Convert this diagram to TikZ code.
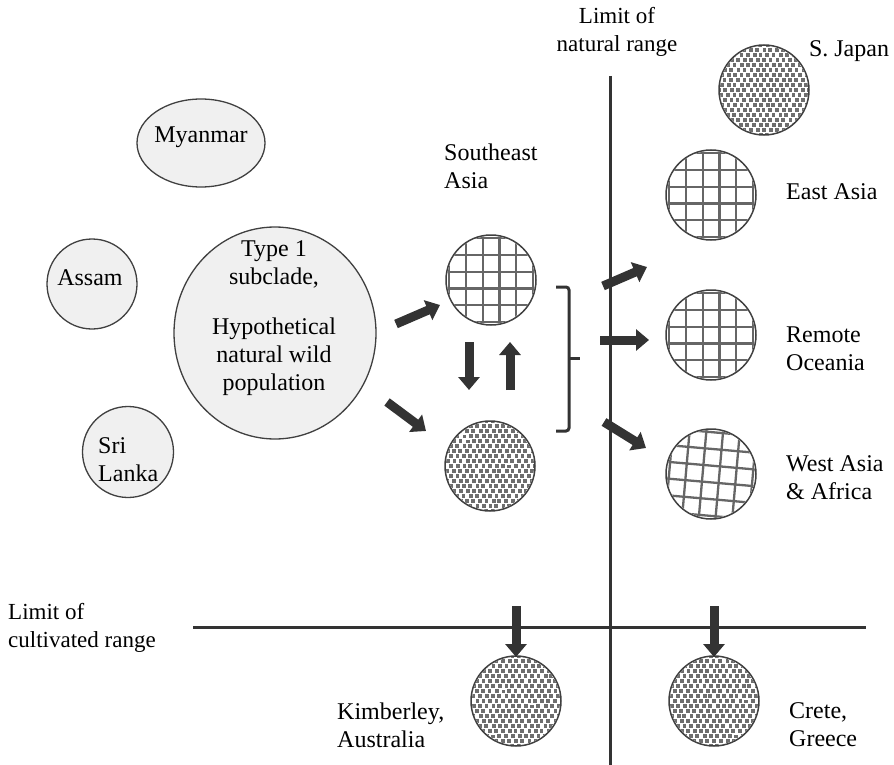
\documentclass[tikz,border=0pt]{standalone}
\usepackage{fontspec}
\setmainfont{Liberation Serif}
\usetikzlibrary{arrows.meta,shapes.geometric}
\definecolor{edgec}{HTML}{404040}
\definecolor{lightfill}{HTML}{F0F0F0}
\definecolor{patc}{HTML}{666666}
\definecolor{dotc}{HTML}{6E6E6E}
\definecolor{arrc}{HTML}{333333}
\newcommand{\mygridfill}[4]{%
  \begin{scope}
    \clip (#1,#2) circle[radius=#3];
    \begin{scope}[shift={(#1,#2)}, rotate=#4]
      \foreach \k in {-3.5,-2.5,...,3.5}{
        \draw[patc, line width=2.3pt] (\k*16.7,-65) -- (\k*16.7,65);
        \draw[patc, line width=2.3pt] (-65,\k*16.7) -- (65,\k*16.7);
      }
    \end{scope}
  \end{scope}}
\newcommand{\mydotfill}[3]{%
  \begin{scope}
    \clip (#1,#2) circle[radius=#3];
    \foreach \j in {-10,...,10}{
      \pgfmathsetmacro\off{mod(\j+100,2)*3.25}
      \foreach \i in {-8,...,8}{
        \fill[dotc] ({#1+\i*6.5+\off-1.9+0.6*rand},{#2+\j*5-1.9+0.4*rand}) rectangle ++(3.8,3.8);
      }
    }
  \end{scope}}
\begin{document}
\begin{tikzpicture}[x=1pt,y=-1pt,
  every node/.style={font=\fontsize{23}{28}\selectfont, text=black},
  bubble/.style={draw=edgec, line width=1.3pt, fill=lightfill, inner sep=0pt},
  patcircle/.style={circle, draw=edgec, line width=1.5pt, minimum size=90pt, inner sep=0pt},
  barrow/.style={draw=arrc, line width=9pt, -{Triangle[length=13pt,width=21pt]}},
  limitline/.style={draw=arrc, line width=3pt},
  lbl/.style={align=left, inner sep=0pt},
  lblc/.style={align=center, inner sep=0pt},
  bigtxt/.style={font=\fontsize{24}{28}\selectfont}]
\pgfmathsetseed{7}
\useasboundingbox (0,0) rectangle (894,765);

% left bubbles
\node[bubble, ellipse, minimum width=128pt, minimum height=88pt] (myanmar) at (201,143) {};
\node[lblc, bigtxt] at (201,137) {Myanmar};
\node[bubble, circle, minimum size=90pt] (assam) at (92,284) {};
\node[lblc, bigtxt] at (90,278) {Assam};
\node[bubble, circle, minimum size=91pt] (srilanka) at (128,452) {};
\node[lbl, bigtxt, anchor=west] at (98,460) {Sri\\Lanka};
\node[bubble, ellipse, minimum width=202pt, minimum height=212pt] (type1) at (275,333) {};
\node[lblc, bigtxt] at (274,318) {Type 1\\subclade,\\[22pt]Hypothetical\\natural wild\\population};

% limit lines
\coordinate (vtop) at (610,76);
\coordinate (vbot) at (610,765);
\coordinate (hleft) at (193,627);
\coordinate (hright) at (866,627);
\draw[limitline] (vtop) -- (vbot);
\draw[limitline] (hleft) -- (hright);
\node[lblc] (natlim) at (617,32) {Limit of\\natural range};
\node[lbl, anchor=west] (cultlim) at (8,628) {Limit of\\cultivated range};

% patterned circles
\mygridfill{491}{280}{44}{0}
\node[patcircle] (seagrid) at (491,280) {};
\mydotfill{490}{466}{44}
\node[patcircle] (seadot) at (490,466) {};
\mydotfill{764}{90}{44}
\node[patcircle] (japan) at (764,90) {};
\mygridfill{711}{195}{44}{0}
\node[patcircle] (eastasia) at (711,195) {};
\mygridfill{711}{335}{44}{0}
\node[patcircle] (oceania) at (711,335) {};
\mygridfill{711}{474}{44}{-5}
\node[patcircle] (westasia) at (711,474) {};
\mydotfill{516}{701}{44}
\node[patcircle] (kimberley) at (516,701) {};
\mydotfill{714}{701}{44}
\node[patcircle] (crete) at (714,701) {};

% labels
\node[lbl, bigtxt, anchor=west] at (444,166) {Southeast\\Asia};
\node[lblc, bigtxt] at (849,51) {S. Japan};
\node[lbl, bigtxt, anchor=west] at (786,192) {East Asia};
\node[lbl, bigtxt, anchor=west] at (786,349) {Remote\\Oceania};
\node[lbl, bigtxt, anchor=west] at (786,478) {West Asia\\\& Africa};
\node[lbl, bigtxt, anchor=west] at (337,725) {Kimberley,\\Australia};
\node[lbl, bigtxt, anchor=west] at (789,725) {Crete,\\Greece};

% arrows from type1
\coordinate (a1s) at (396,324);
\coordinate (a1e) at (440,305);
\coordinate (a2s) at (387,402);
\coordinate (a2e) at (426,431);
\draw[barrow] (a1s) -- (a1e);
\draw[barrow] (a2s) -- (a2e);
% between SE Asia circles
\coordinate (dns) at (469,342);
\coordinate (dne) at (469,390);
\coordinate (ups) at (510,390);
\coordinate (upe) at (510,342);
\draw[barrow] (dns) -- (dne);
\draw[barrow] (ups) -- (upe);

% bracket
\draw[draw=arrc, line width=3pt, rounded corners=3pt] (556,287) -- (569,287) -- (569,431) -- (556,431);
\draw[draw=arrc, line width=3pt] (569,358) -- (580,358);

% arrows out of natural range
\coordinate (b1s) at (603,286);
\coordinate (b1e) at (647,267);
\coordinate (b2s) at (600,340);
\coordinate (b2e) at (649,340);
\coordinate (b3s) at (604,422);
\coordinate (b3e) at (646,448);
\draw[barrow] (b1s) -- (b1e);
\draw[barrow] (b2s) -- (b2e);
\draw[barrow] (b3s) -- (b3e);

% arrows out of cultivated range
\coordinate (c1s) at (516,606);
\coordinate (c1e) at (516,657);
\coordinate (c2s) at (714,606);
\coordinate (c2e) at (714,657);
\draw[barrow] (c1s) -- (c1e);
\draw[barrow] (c2s) -- (c2e);
\end{tikzpicture}
\end{document}
